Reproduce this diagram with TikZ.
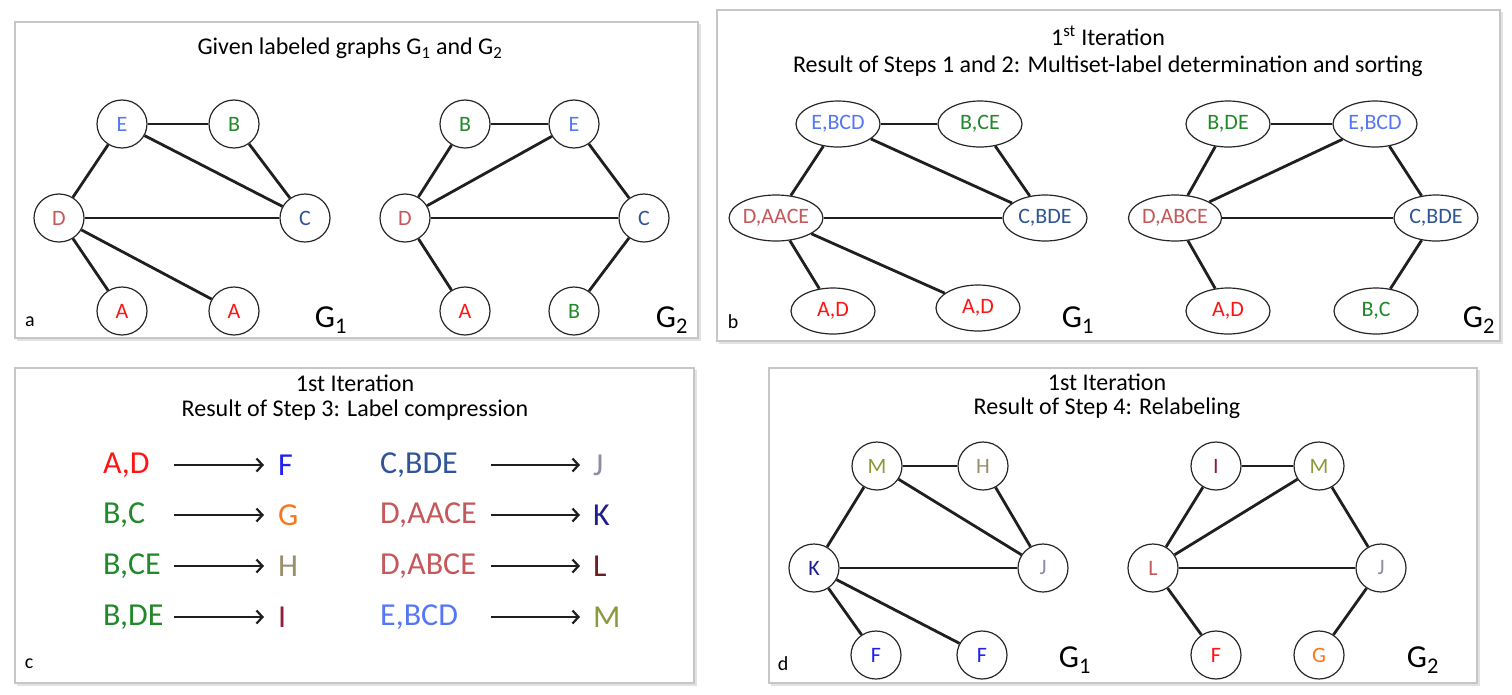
\documentclass[tikz,border=0pt]{standalone}
\usepackage{fontspec}
\setmainfont{Carlito}
\usetikzlibrary{shapes.geometric,arrows.meta}
\definecolor{cE}{HTML}{5677F5}
\definecolor{cB}{HTML}{22892A}
\definecolor{cD}{HTML}{C4585A}
\definecolor{cC}{HTML}{2F5596}
\definecolor{cA}{HTML}{FF1414}
\definecolor{cF}{HTML}{2020F0}
\definecolor{cG}{HTML}{F5781E}
\definecolor{cH}{HTML}{9C8E6C}
\definecolor{cI}{HTML}{8E1E3A}
\definecolor{cJ}{HTML}{8C8CA2}
\definecolor{cK}{HTML}{1E1E8E}
\definecolor{cL}{HTML}{6E1E1E}
\definecolor{cM}{HTML}{8A9A3C}
\definecolor{frame}{HTML}{C6C6C6}
\definecolor{shade}{HTML}{E2E2E2}
\begin{document}
\begin{tikzpicture}[x=1pt,y=-1pt,
  panelbox/.style={draw=frame, line width=1.8pt},
  panelshade/.style={draw=shade, line width=2.4pt},
  cnode/.style={ellipse, draw=black!85, line width=1.2pt, fill=white, minimum width=50pt, minimum height=48pt, inner sep=0pt, font=\fontsize{22}{22}\selectfont},
  enode/.style={ellipse, draw=black!85, line width=1.2pt, fill=white, minimum width=84pt, minimum height=46pt, inner sep=0pt, font=\fontsize{22}{22}\selectfont},
  edge/.style={line width=2.8pt, black!88},
  ttl/.style={font=\fontsize{24}{24}\selectfont, anchor=center},
  glab/.style={font=\fontsize{32}{32}\selectfont, anchor=center},
  plab/.style={font=\fontsize{20}{20}\selectfont, anchor=center},
  clab/.style={font=\fontsize{32}{32}\selectfont, anchor=west, inner sep=0pt},
  carrow/.style={line width=2.2pt, black!88, -{Straight Barb[length=6pt,width=13pt,line width=2.2pt]}}
]
\useasboundingbox (0,0) rectangle (1512,694);

% ---------- panel frames ----------
\draw[panelshade] (17,340) -- (700,340) -- (700,24);
\draw[panelbox] (15,22) rectangle (698,338);
\draw[panelshade] (719,343) -- (1502,343) -- (1502,12);
\draw[panelbox] (717,10) rectangle (1500,341);
\draw[panelshade] (17,685) -- (696,685) -- (696,370);
\draw[panelbox] (15,368) rectangle (694,683);
\draw[panelshade] (771,685) -- (1479,685) -- (1479,370);
\draw[panelbox] (769,368) rectangle (1477,683);

% ---------- panel a ----------
\node[ttl] (ta) at (350,48) {Given labeled graphs G\textsubscript{1} and G\textsubscript{2}};
\node[plab] (la) at (30,322) {a};
\node[glab] (ga1) at (331,320) {G\textsubscript{1}};
\node[glab] (ga2) at (672,320) {G\textsubscript{2}};

\node[cnode, text=cE] (aE) at (122,124) {E};
\node[cnode, text=cB] (aB) at (234,124) {B};
\node[cnode, text=cD] (aD) at (59,218) {D};
\node[cnode, text=cC] (aC) at (305,218) {C};
\node[cnode, text=cA] (aA1) at (122,311) {A};
\node[cnode, text=cA] (aA2) at (234,311) {A};
\draw[edge] (aE) -- (aB);
\draw[edge] (aE) -- (aD);
\draw[edge] (aE) -- (aC);
\draw[edge] (aB) -- (aC);
\draw[edge] (aD) -- (aC);
\draw[edge] (aD) -- (aA1);
\draw[edge] (aD) -- (aA2);

\node[cnode, text=cB] (bB) at (465,124) {B};
\node[cnode, text=cE] (bE) at (574,124) {E};
\node[cnode, text=cD] (bD) at (405,218) {D};
\node[cnode, text=cC] (bC) at (644,218) {C};
\node[cnode, text=cA] (bA) at (465,311) {A};
\node[cnode, text=cB] (bB2) at (574,311) {B};
\draw[edge] (bB) -- (bE);
\draw[edge] (bB) -- (bD);
\draw[edge] (bE) -- (bD);
\draw[edge] (bE) -- (bC);
\draw[edge] (bD) -- (bC);
\draw[edge] (bD) -- (bA);
\draw[edge] (bC) -- (bB2);

% ---------- panel b ----------
\node[ttl] (tb1) at (1108,36) {1\textsuperscript{st} Iteration};
\node[ttl] (tb2) at (1108,66) {Result of Steps 1 and 2: Multiset-label determination and sorting};
\node[plab] (lb) at (733,322) {b};
\node[glab] (gb1) at (1078,320) {G\textsubscript{1}};
\node[glab] (gb2) at (1479,320) {G\textsubscript{2}};

\node[enode, text=cE] (cE1) at (838,124) {E,BCD};
\node[enode, text=cB] (cB1) at (980,124) {B,CE};
\node[enode, text=cD] (cD1) at (776,218) {D,AACE};
\node[enode, text=cC] (cC1) at (1045,218) {C,BDE};
\node[enode, text=cA] (cA1) at (833,311) {A,D};
\node[enode, text=cA] (cA2) at (978,308) {A,D};
\draw[edge] (cE1) -- (cB1);
\draw[edge] (cE1) -- (cD1);
\draw[edge] (cE1) -- (cC1);
\draw[edge] (cB1) -- (cC1);
\draw[edge] (cD1) -- (cC1);
\draw[edge] (cD1) -- (cA1);
\draw[edge] (cD1) -- (cA2);

\node[enode, text=cB] (dB) at (1228,124) {B,DE};
\node[enode, text=cE] (dE) at (1375,124) {E,BCD};
\node[enode, text=cD] (dD) at (1175,218) {D,ABCE};
\node[enode, text=cC] (dC) at (1436,218) {C,BDE};
\node[enode, text=cA] (dA) at (1228,311) {A,D};
\node[enode, text=cB] (dBC) at (1376,311) {B,C};
\draw[edge] (dB) -- (dE);
\draw[edge] (dB) -- (dD);
\draw[edge] (dE) -- (dD);
\draw[edge] (dE) -- (dC);
\draw[edge] (dD) -- (dC);
\draw[edge] (dD) -- (dA);
\draw[edge] (dC) -- (dBC);

% ---------- panel c ----------
\node[ttl] (tc1) at (355,383) {1st Iteration};
\node[ttl] (tc2) at (355,410) {Result of Step 3: Label compression};
\node[plab] (lc) at (29,664) {c};

\node[clab, text=cA] (s1) at (103,465) {A,D};
\node[clab, text=cB] (s2) at (103,515) {B,C};
\node[clab, text=cB] (s3) at (103,566) {B,CE};
\node[clab, text=cB] (s4) at (103,617) {B,DE};
\node[clab, text=cF] (t1) at (278,465) {F};
\node[clab, text=cG] (t2) at (278,515) {G};
\node[clab, text=cH] (t3) at (278,566) {H};
\node[clab, text=cI] (t4) at (278,617) {I};
\coordinate (a1s) at (174,465); \coordinate (a1e) at (264,465);
\coordinate (a2s) at (174,515); \coordinate (a2e) at (264,515);
\coordinate (a3s) at (174,566); \coordinate (a3e) at (264,566);
\coordinate (a4s) at (174,617); \coordinate (a4e) at (264,617);
\draw[carrow] (a1s) -- (a1e);
\draw[carrow] (a2s) -- (a2e);
\draw[carrow] (a3s) -- (a3e);
\draw[carrow] (a4s) -- (a4e);

\node[clab, text=cC] (s5) at (380,465) {C,BDE};
\node[clab, text=cD] (s6) at (380,515) {D,AACE};
\node[clab, text=cD] (s7) at (380,566) {D,ABCE};
\node[clab, text=cE] (s8) at (380,617) {E,BCD};
\node[clab, text=cJ] (t5) at (593,465) {J};
\node[clab, text=cK] (t6) at (593,515) {K};
\node[clab, text=cL] (t7) at (593,566) {L};
\node[clab, text=cM] (t8) at (593,617) {M};
\coordinate (a5s) at (491,465); \coordinate (a5e) at (580,465);
\coordinate (a6s) at (491,515); \coordinate (a6e) at (580,515);
\coordinate (a7s) at (491,566); \coordinate (a7e) at (580,566);
\coordinate (a8s) at (491,617); \coordinate (a8e) at (580,617);
\draw[carrow] (a5s) -- (a5e);
\draw[carrow] (a6s) -- (a6e);
\draw[carrow] (a7s) -- (a7e);
\draw[carrow] (a8s) -- (a8e);

% ---------- panel d ----------
\node[ttl] (td1) at (1107,382) {1st Iteration};
\node[ttl] (td2) at (1107,408) {Result of Step 4: Relabeling};
\node[plab] (ld) at (783,664) {d};
\node[glab] (gd1) at (1075,660) {G\textsubscript{1}};
\node[glab] (gd2) at (1423,660) {G\textsubscript{2}};

\node[cnode, text=cM] (eM) at (877,466) {M};
\node[cnode, text=cH] (eH) at (983,466) {H};
\node[cnode, text=cK] (eK) at (814,568) {K};
\node[cnode, text=cJ] (eJ) at (1043,568) {J};
\node[cnode, text=cF] (eF1) at (876,655) {F};
\node[cnode, text=cF] (eF2) at (982,655) {F};
\draw[edge] (eM) -- (eH);
\draw[edge] (eM) -- (eK);
\draw[edge] (eM) -- (eJ);
\draw[edge] (eH) -- (eJ);
\draw[edge] (eK) -- (eJ);
\draw[edge] (eK) -- (eF1);
\draw[edge] (eK) -- (eF2);

\node[cnode, text=cI] (fI) at (1216,466) {I};
\node[cnode, text=cM] (fM) at (1319,466) {M};
\node[cnode, text=cD] (fL) at (1153,568) {L};
\node[cnode, text=cJ] (fJ) at (1381,568) {J};
\node[cnode, text=cA] (fF) at (1216,655) {F};
\node[cnode, text=cG] (fG) at (1319,655) {G};
\draw[edge] (fI) -- (fM);
\draw[edge] (fI) -- (fL);
\draw[edge] (fM) -- (fL);
\draw[edge] (fM) -- (fJ);
\draw[edge] (fL) -- (fJ);
\draw[edge] (fL) -- (fF);
\draw[edge] (fJ) -- (fG);
\end{tikzpicture}
\end{document}
